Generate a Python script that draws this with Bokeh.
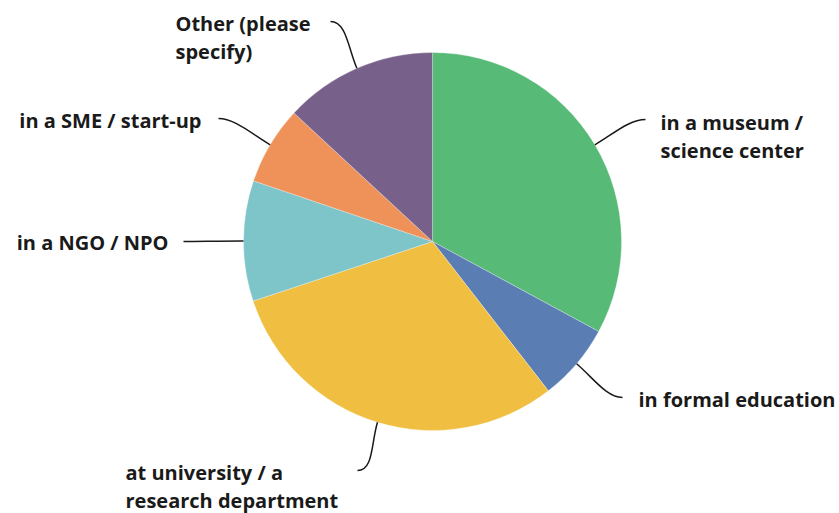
import numpy as np
from bokeh.plotting import figure
from bokeh.models import ColumnDataSource, Range1d
from bokeh.core.properties import value
from bokeh.embed import file_html
from bokeh.resources import INLINE

# ---- data (clockwise from 12 o'clock) ----
categories = ["in a museum / science center", "in formal education",
              "at university / a research department", "in a NGO / NPO",
              "in a SME / start-up", "Other (please specify)"]
shares = [32.9, 6.6, 30.4, 10.3, 6.7, 13.1]
colors = ["#57bb77", "#5a7db3", "#f0bf41", "#7ec5ca", "#ef9259", "#77608a"]
label_lines = [["in a museum /", "science center"], ["in formal education"],
               ["at university / a", "research department"], ["in a NGO / NPO"],
               ["in a SME / start-up"], ["Other (please", "specify)"]]

W, H = 839, 513
CX, CY, R = 432, 241, 189   # screen coords (y down)

def sy(y):
    return H - y

vals = np.array(shares, dtype=float)
frac = vals / vals.sum()
cum = np.concatenate([[0], np.cumsum(frac)]) * 2 * np.pi
start_cw = cum[:-1]
end_cw = cum[1:]
mid_cw = (start_cw + end_cw) / 2

p = figure(width=W, height=H, output_backend="svg", toolbar_location=None,
           x_range=Range1d(0, W), y_range=Range1d(0, H), min_border=0)
p.axis.visible = False
p.grid.visible = False
p.outline_line_color = None
p.background_fill_color = "white"

src = ColumnDataSource(dict(
    start=np.pi / 2 - start_cw, end=np.pi / 2 - end_cw, color=colors, cat=categories))
p.wedge(x=CX, y=sy(CY), radius=R, start_angle="start", end_angle="end",
        direction="clock", fill_color="color", line_color="white", line_width=0.4,
        line_alpha=0.7, source=src)

# leader line end points and label anchors (layout)
ends = [(645, 119), (622, 397), (357, 470), (183, 241), (218, 118), (330, 21)]
label_pos = [(660, 122, "left"), (638, 399, "left"), (125, 472, "left"),
             (168, 242, "right"), (201, 120, "right"), (175, 23, "left")]
line_gap = 28

bx0, by0, bx1, by1, c0x, c0y, c1x, c1y = [], [], [], [], [], [], [], []
for i, m in enumerate(mid_cw):
    dx, dy = np.sin(m), -np.cos(m)
    x0, y0 = CX + R * dx, CY + R * dy
    ex, ey = ends[i]
    k = 22
    cx0, cy0 = x0 + k * dx, y0 + k * dy
    side = 1 if ex > CX else -1
    cx1, cy1 = ex - side * 16, ey
    bx0.append(x0); by0.append(sy(y0)); bx1.append(ex); by1.append(sy(ey))
    c0x.append(cx0); c0y.append(sy(cy0)); c1x.append(cx1); c1y.append(sy(cy1))
p.bezier(x0=bx0, y0=by0, x1=bx1, y1=by1, cx0=c0x, cy0=c0y, cx1=c1x, cy1=c1y,
         line_color="#1a1a1a", line_width=1.5)

for lines, (lx, ly, al) in zip(label_lines, label_pos):
    for j, t in enumerate(lines):
        p.text(x=[lx], y=[sy(ly + j * line_gap)], text=[t], text_align=al,
               text_baseline="middle", text_font=value("Open Sans"),
               text_font_size="20px", text_color="#1a1a1a", text_font_style="bold")

open("out.html", "w").write(file_html(p, INLINE))
